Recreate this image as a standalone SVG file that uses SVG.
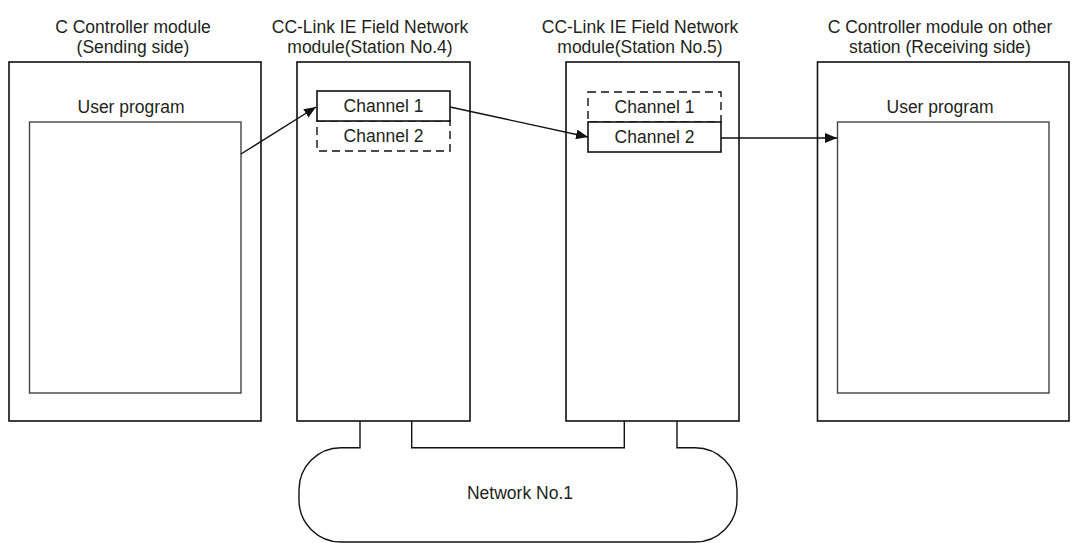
<svg xmlns="http://www.w3.org/2000/svg" width="1072" height="543" viewBox="0 0 1072 543">
<defs>
<style>
text{font-family:"Liberation Sans",Arial,sans-serif;font-size:17.5px;fill:#231f20;text-anchor:middle}
.box{fill:#fff;stroke:#111;stroke-width:1.6}
.inner{fill:#fff;stroke:#444;stroke-width:1.4}
.dash{fill:none;stroke:#111;stroke-width:1.4;stroke-dasharray:8 5}
.solid{fill:#fff;stroke:#111;stroke-width:1.6}
.conn{fill:none;stroke:#111;stroke-width:1.4}
</style>
<marker id="ah" viewBox="0 0 12 10" refX="12" refY="5" markerWidth="12" markerHeight="10" markerUnits="userSpaceOnUse" orient="auto">
<path d="M0,0 L12,5 L0,10 z" fill="#111"/>
</marker>
</defs>
<g id="sender">
<text x="133" y="33">C Controller module</text>
<text x="133" y="53">(Sending side)</text>
<rect class="box" x="9" y="62" width="252" height="359"/>
<text x="131" y="113">User program</text>
<rect class="inner" x="29.5" y="122" width="211.5" height="271"/>
</g>
<g id="station4">
<text x="370" y="33">CC-Link IE Field Network</text>
<text x="370" y="53">module(Station No.4)</text>
<rect class="box" x="297" y="62" width="173" height="359"/>
<rect class="dash" x="317" y="121" width="133" height="30"/>
<rect class="solid" x="317" y="91" width="133" height="30"/>
<text x="383.5" y="112">Channel 1</text>
<text x="383.5" y="142">Channel 2</text>
</g>
<g id="station5">
<text x="640" y="33">CC-Link IE Field Network</text>
<text x="640" y="53">module(Station No.5)</text>
<rect class="box" x="566" y="62" width="173" height="359"/>
<rect class="dash" x="588" y="92" width="133" height="30"/>
<rect class="solid" x="588" y="122" width="133" height="30"/>
<text x="654.5" y="113">Channel 1</text>
<text x="654.5" y="143">Channel 2</text>
</g>
<g id="receiver">
<text x="940" y="33">C Controller module on other</text>
<text x="940" y="53">station (Receiving side)</text>
<rect class="box" x="817.5" y="62" width="251.5" height="359"/>
<text x="940" y="113">User program</text>
<rect class="inner" x="837.5" y="122" width="211.5" height="271"/>
</g>
<g id="network">
<path class="conn" d="M360,421 V447.7 H341 A42,42 0 0 0 299,489.7 V500 A42,42 0 0 0 341,542 H695 A42,42 0 0 0 737,500 V489.7 A42,42 0 0 0 695,447.7 H677 V421 M624.3,421 V447.7 H411.7 V421"/>
<text x="520" y="499">Network No.1</text>
</g>
<g id="connectors">
<line class="conn" x1="241" y1="154" x2="316" y2="107" marker-end="url(#ah)"/>
<line class="conn" x1="450" y1="107" x2="588" y2="137" marker-end="url(#ah)"/>
<line class="conn" x1="721" y1="138" x2="837" y2="138" marker-end="url(#ah)"/>
</g>
</svg>
